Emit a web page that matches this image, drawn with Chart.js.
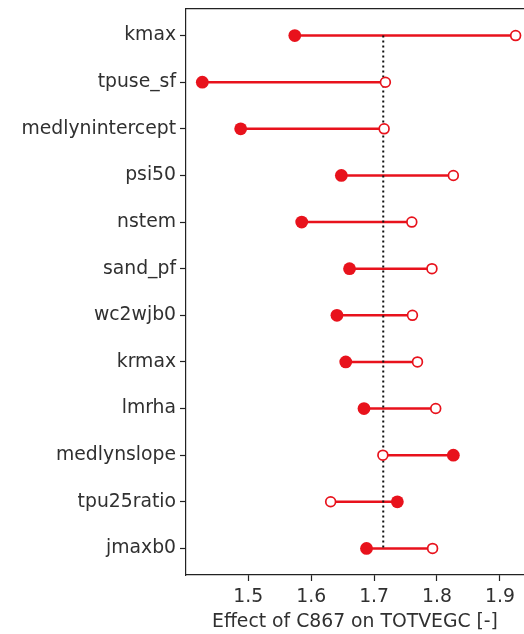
<!DOCTYPE html>
<html>
<head>
<meta charset="utf-8">
<script src="https://cdn.jsdelivr.net/npm/chart.js@4.4.0/dist/chart.umd.min.js"></script>
<style>
  html, body { margin: 0; padding: 0; background: #fff; overflow: hidden; }
  canvas { display: block; }
</style>
</head>
<body>
<canvas id="c" width="524" height="634"></canvas>
<script>
const categories = ["kmax", "tpuse_sf", "medlynintercept", "psi50", "nstem", "sand_pf",
  "wc2wjb0", "krmax", "lmrha", "medlynslope", "tpu25ratio", "jmaxb0"];
const filledValues = [1.574, 1.427, 1.488, 1.648, 1.585, 1.661, 1.641, 1.655, 1.684, 1.826, 1.737, 1.688];
const openValues   = [1.925, 1.718, 1.716, 1.826, 1.760, 1.792, 1.761, 1.769, 1.798, 1.714, 1.631, 1.793];
const referenceValue = 1.7146;
const xTickValues = [1.5, 1.6, 1.7, 1.8, 1.9];
const xTitle = "Effect of C867 on TOTVEGC [-]";

const RED = "#e8121c";
const TXT = "#303030";
const FONT = "'DejaVu Sans', sans-serif";

const segmentDatasets = categories.map((c, i) => ({
  type: "line",
  label: c,
  data: [{x: filledValues[i], y: i}, {x: openValues[i], y: i}],
  borderColor: RED,
  borderWidth: 2.6,
  pointRadius: 0,
  showLine: true,
  order: 3
}));

const datasets = [
  {
    label: "filled",
    data: categories.map((c, i) => ({x: filledValues[i], y: i})),
    backgroundColor: RED,
    borderColor: RED,
    borderWidth: 0,
    pointRadius: 6.4,
    showLine: false,
    order: 0
  },
  {
    label: "open",
    data: categories.map((c, i) => ({x: openValues[i], y: i})),
    backgroundColor: "#ffffff",
    borderColor: RED,
    borderWidth: 1.7,
    pointRadius: 4.9,
    showLine: false,
    order: 1
  },
  {
    type: "line",
    label: "reference",
    data: [{x: referenceValue, y: 0}, {x: referenceValue, y: categories.length - 1}],
    borderColor: "#111111",
    borderWidth: 2,
    borderDash: [2, 3],
    pointRadius: 0,
    showLine: true,
    order: 2
  },
  ...segmentDatasets
];

function noPad(s) { s.paddingLeft = 0; s.paddingRight = 0; s.paddingTop = 0; s.paddingBottom = 0; }

new Chart(document.getElementById("c"), {
  type: "scatter",
  data: { datasets },
  options: {
    responsive: false,
    animation: false,
    devicePixelRatio: 1,
    layout: { autoPadding: false, padding: { top: 9, left: 0, right: 0, bottom: 0 } },
    plugins: { legend: { display: false }, tooltip: { enabled: false } },
    scales: {
      x: {
        type: "linear",
        position: "bottom",
        min: 1.4011,
        max: 1.9383,
        afterBuildTicks: (s) => { s.ticks = xTickValues.map(v => ({value: v})); },
        afterFit: (s) => { s.height = 59; noPad(s); },
        grid: { drawOnChartArea: false, tickLength: 6, color: "#222", tickWidth: 1.2 },
        border: { display: true, color: "#222", width: 1.2 },
        ticks: { color: TXT, font: { family: FONT, size: 18.8 }, padding: 5, maxRotation: 0,
                 callback: (v) => v.toFixed(1) },
        title: { display: true, text: xTitle, color: TXT, font: { family: FONT, size: 18.8 },
                 padding: { top: 0, bottom: 1 } }
      },
      xTop: {
        type: "linear",
        position: "top",
        min: 1.4011,
        max: 1.9383,
        afterFit: (s) => { s.height = 0; noPad(s); },
        grid: { display: false },
        border: { display: true, color: "#222", width: 1.2 },
        ticks: { display: false }
      },
      y: {
        type: "linear",
        reverse: true,
        min: -0.57,
        max: 11.57,
        afterBuildTicks: (s) => { s.ticks = categories.map((c, i) => ({value: i})); },
        afterFit: (s) => { s.width = 186; noPad(s); },
        grid: { drawOnChartArea: false, tickLength: 6, color: "#222", tickWidth: 1.2 },
        border: { display: true, color: "#222", width: 1.2 },
        ticks: { color: TXT, font: { family: FONT, size: 18.8 }, padding: 4,
                 callback: (v) => categories[v] }
      }
    }
  }
});
</script>
</body>
</html>
